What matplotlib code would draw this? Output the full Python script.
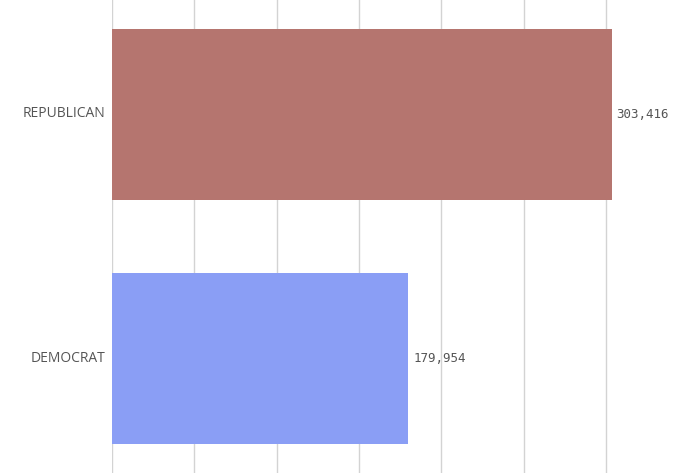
import matplotlib
matplotlib.use("Agg")
import matplotlib.pyplot as plt
import matplotlib.transforms as mtransforms

categories = ["REPUBLICAN", "DEMOCRAT"]
values = [303416, 179954]
colors = ["#b5756f", "#8a9ef5"]
ticks = [0, 50000, 100000, 150000, 200000, 250000, 300000]

fig = plt.figure(figsize=(6.8, 4.73), dpi=100)
ax = fig.add_axes([112/680, 0, 568/680, 1])
ypos = list(range(len(categories)))
ax.barh(ypos, values, height=0.7, color=colors, zorder=2)
ax.set_ylim(len(categories) - 1 + 0.467, -0.467)
ax.set_xlim(0, 345000)
ax.set_xticks(ticks)
ax.xaxis.grid(True, color="#d3d3d3", linewidth=1, zorder=0)
ax.tick_params(axis="x", length=0, labelbottom=False)
ax.set_yticks(ypos)
ax.set_yticklabels(categories, fontsize=10, color="#555555", family="Open Sans")
ax.tick_params(axis="y", length=0, pad=5)
offset = mtransforms.ScaledTranslation(0, 2.5/100, fig.dpi_scale_trans)
for lbl in ax.get_yticklabels():
    lbl.set_transform(lbl.get_transform() + offset)
for s in ax.spines.values():
    s.set_visible(False)
for y, v in zip(ypos, values):
    ax.text(v + 3000, y, f"{v:,}", va="center", ha="left", fontsize=9,
            color="#555555", family="DejaVu Sans Mono")
fig.savefig("out.png", dpi=100)
